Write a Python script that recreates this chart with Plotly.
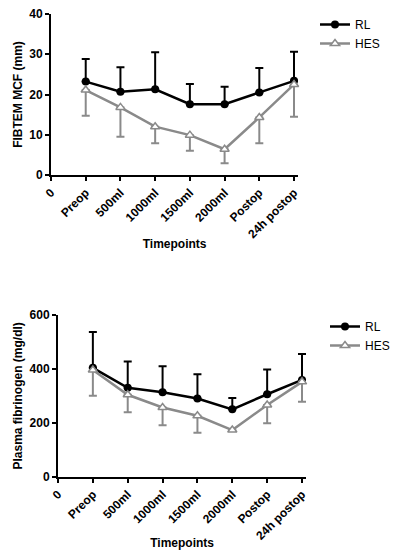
import plotly.graph_objects as go

categories = ['Preop', '500ml', '1000ml', '1500ml', '2000ml', 'Postop', '24h postop']
tick_labels = ['0'] + categories
tick_vals = list(range(len(tick_labels)))
x_pos = list(range(1, len(categories) + 1))

fibtem_rl = [23.2, 20.7, 21.3, 17.6, 17.6, 20.5, 23.4]
fibtem_rl_sd = [5.6, 6.1, 9.2, 5.0, 4.3, 6.1, 7.2]
fibtem_hes = [21.1, 16.8, 12.0, 9.9, 6.4, 14.3, 22.5]
fibtem_hes_sd = [6.4, 7.3, 4.1, 3.9, 3.5, 6.4, 8.0]

fib_rl = [404, 330, 313, 290, 250, 306, 359]
fib_rl_sd = [133, 97, 97, 90, 42, 92, 96]
fib_hes = [396, 304, 257, 226, 173, 266, 352]
fib_hes_sd = [96, 65, 66, 63, 0, 68, 74]

BLACK = '#000000'
GREY = '#8a8a8a'
FONT = 'Liberation Sans, Arial, sans-serif'

fig = go.Figure()

def add_pair(rl, rl_sd, hes, hes_sd, xa, ya, legend):
    zeros = [0] * len(rl)
    fig.add_trace(go.Scatter(
        x=x_pos, y=rl, name='RL', mode='lines+markers', xaxis=xa, yaxis=ya,
        legend=legend, cliponaxis=False,
        line=dict(color=BLACK, width=2.5),
        marker=dict(symbol='circle', size=8, color=BLACK),
        error_y=dict(type='data', symmetric=False, array=rl_sd, arrayminus=zeros,
                     color=BLACK, thickness=2, width=4)))
    fig.add_trace(go.Scatter(
        x=x_pos, y=hes, name='HES', mode='lines+markers', xaxis=xa, yaxis=ya,
        legend=legend, cliponaxis=False,
        line=dict(color=GREY, width=2.5),
        marker=dict(symbol='triangle-up', size=8, color='white',
                    line=dict(color=GREY, width=1.5)),
        error_y=dict(type='data', symmetric=False, array=zeros, arrayminus=hes_sd,
                     color=GREY, thickness=2, width=4)))

add_pair(fibtem_rl, fibtem_rl_sd, fibtem_hes, fibtem_hes_sd, 'x', 'y', 'legend')
add_pair(fib_rl, fib_rl_sd, fib_hes, fib_hes_sd, 'x2', 'y2', 'legend2')

tickfont = dict(family=FONT, size=12, color=BLACK, weight='bold')
titlefont = dict(family=FONT, size=12, color=BLACK, weight='bold')

X_MAX = 7.12

def xaxis(domain, anchor):
    return dict(domain=domain, anchor=anchor, range=[0, X_MAX], tickmode='array',
                tickvals=tick_vals, ticktext=tick_labels, tickangle=-45,
                showline=True, linecolor=BLACK, linewidth=2, ticks='outside',
                ticklen=4, tickwidth=2, tickcolor=BLACK, showgrid=False,
                zeroline=False, tickfont=tickfont, automargin=False,
                title=dict(text='Timepoints', font=titlefont, standoff=0))

def yaxis(domain, anchor, rng, dtick, title):
    return dict(domain=domain, anchor=anchor, range=rng, dtick=dtick,
                showline=True, linecolor=BLACK, linewidth=2, ticks='outside',
                ticklen=4, tickwidth=2, tickcolor=BLACK, showgrid=False,
                zeroline=False, automargin=False,
                tickfont=dict(family=FONT, size=12, color=BLACK, weight='bold'),
                title=dict(text=title, font=titlefont, standoff=4))

fig.update_layout(
    template='none',
    width=398, height=550,
    margin=dict(l=0, r=0, t=0, b=0, autoexpand=False),
    paper_bgcolor='white', plot_bgcolor='white',
    font=dict(family=FONT, color=BLACK),
    showlegend=True,
    xaxis=xaxis([51 / 398, 298.2 / 398], 'y'),
    yaxis=yaxis([375 / 550, 536 / 550], 'x', [0, 40], 10, 'FIBTEM MCF (mm)'),
    xaxis2=xaxis([58 / 398, 306.2 / 398], 'y2'),
    yaxis2=yaxis([73.3 / 550, 235 / 550], 'x2', [0, 600], 200, 'Plasma fibrinogen (mg/dl)'),
    legend=dict(x=315 / 398, y=1 - 10 / 550, xanchor='left', yanchor='top',
                font=dict(family=FONT, size=12, color=BLACK), bgcolor='rgba(0,0,0,0)',
                tracegroupgap=0),
    legend2=dict(x=325 / 398, y=1 - 312 / 550, xanchor='left', yanchor='top',
                 font=dict(family=FONT, size=12, color=BLACK), bgcolor='rgba(0,0,0,0)',
                 tracegroupgap=0),
)

fig.write_html('out.html', config={'displayModeBar': False},
               post_script="document.body.style.margin='0';")
